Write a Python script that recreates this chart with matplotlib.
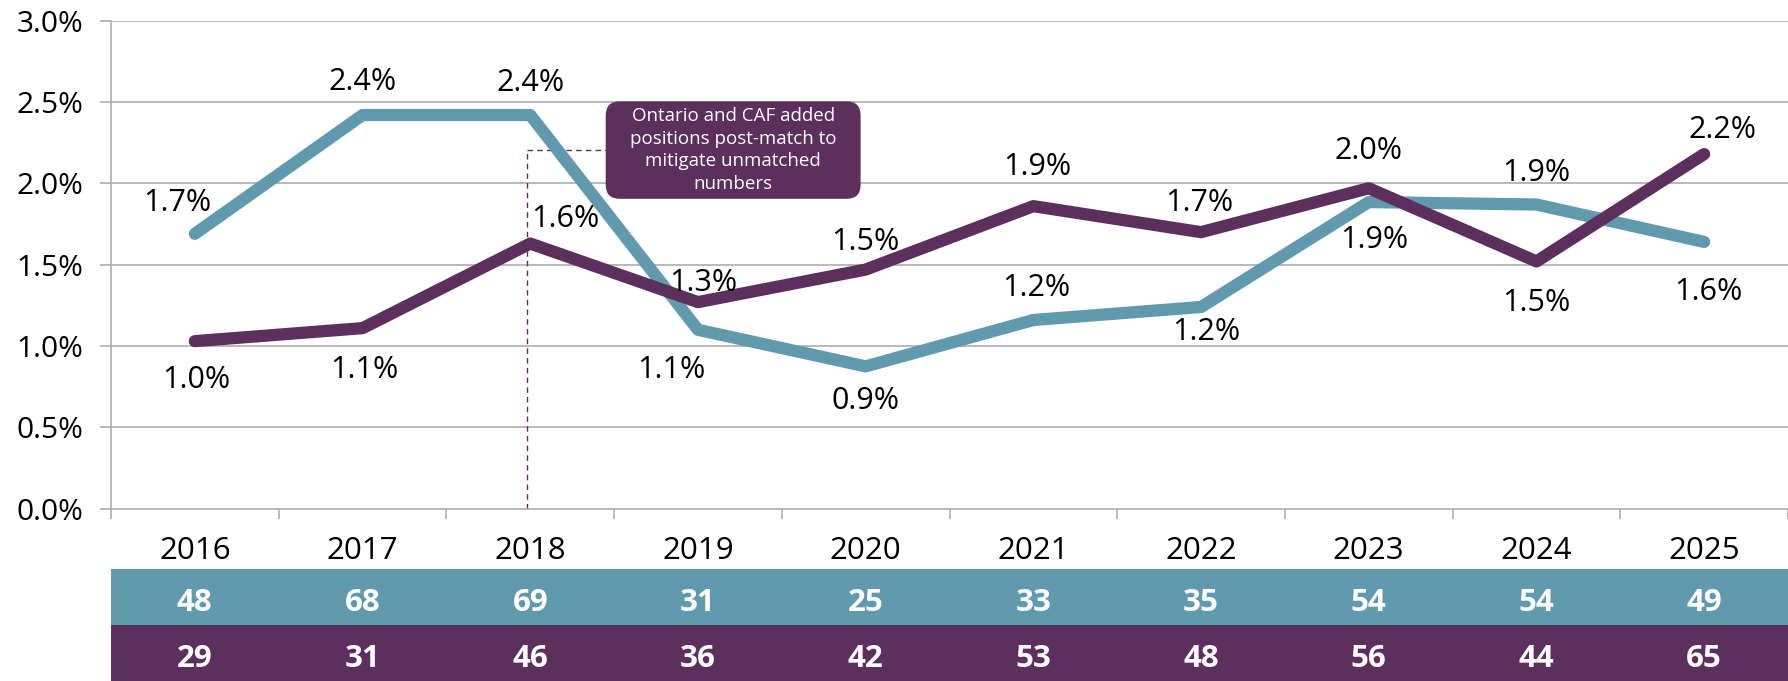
import matplotlib
matplotlib.use("Agg")
import matplotlib.pyplot as plt
from matplotlib.patches import FancyBboxPatch
import numpy as np

# ---------------- data ----------------
years = ["2016", "2017", "2018", "2019", "2020", "2021", "2022", "2023", "2024", "2025"]
teal_rate = [1.69, 2.42, 2.42, 1.10, 0.875, 1.16, 1.24, 1.885, 1.87, 1.64]
purple_rate = [1.03, 1.11, 1.63, 1.27, 1.47, 1.86, 1.70, 1.97, 1.52, 2.18]
teal_counts = [48, 68, 69, 31, 25, 33, 35, 54, 54, 49]
purple_counts = [29, 31, 46, 36, 42, 53, 48, 56, 44, 65]
y_ticks = [0.0, 0.5, 1.0, 1.5, 2.0, 2.5, 3.0]
note_text = "Ontario and CAF added\npositions post-match to\nmitigate unmatched\nnumbers"
note_year = "2018"

# ---------------- layout / style ----------------
TEAL = "#6199AE"
PURPLE = "#5C2F5D"
GRID = "#A6A6A6"
FONT = "Open Sans"
W, H, DPI = 1788, 681, 100

# label offsets in points (dx, dy)
teal_off = [(-13, 22), (0, 24), (0, 23), (-19, -29), (0, -25),
            (2, 23), (4, -18), (4, -27), (0, 23), (3, -36)]
purple_off = [(1, -28), (1, -30), (25, 18), (4, 14), (0, 20),
              (3, 28), (-1, 21), (0, 27), (0, -30), (13, 17)]

plt.rcParams['font.family'] = [FONT, 'DejaVu Sans']

fig = plt.figure(figsize=(W / DPI, H / DPI), dpi=DPI)
fig.patch.set_facecolor("white")

ax_left, ax_bottom_px, ax_top_px = 111, 508.7, 20.7
ax = fig.add_axes([ax_left / W, 1 - ax_bottom_px / H, (W - ax_left) / W,
                   (ax_bottom_px - ax_top_px) / H])

x = np.arange(len(years))
ax.set_xlim(-0.5, len(years) - 0.5)
ax.set_ylim(0, 3.0)

# grid
for v in y_ticks[1:]:
    ax.axhline(v, color=GRID, lw=1.1, zorder=1)

ax.plot(x, teal_rate, color=TEAL, lw=8.8, solid_capstyle="round",
        solid_joinstyle="round", zorder=3)
ax.plot(x, purple_rate, color=PURPLE, lw=8.8, solid_capstyle="round",
        solid_joinstyle="round", zorder=4)

for i, v in enumerate(teal_rate):
    ax.annotate(f"{v:.1f}%", (x[i], v), xytext=teal_off[i], textcoords="offset points",
                ha="center", va="center", fontsize=22, color="black", zorder=5)
for i, v in enumerate(purple_rate):
    ax.annotate(f"{v:.1f}%", (x[i], v), xytext=purple_off[i], textcoords="offset points",
                ha="center", va="center", fontsize=22, color="black", zorder=5)

# spines & ticks
for s in ["top", "right"]:
    ax.spines[s].set_visible(False)
ax.spines["left"].set_color(GRID)
ax.spines["bottom"].set_color(GRID)
ax.spines["left"].set_linewidth(1.1)
ax.spines["bottom"].set_linewidth(1.1)

ax.set_yticks(y_ticks)
ax.set_yticklabels([f"{v:.1f}%" for v in y_ticks])
ax.tick_params(axis="y", direction="out", length=8, width=1.1, color=GRID,
               labelsize=21.5, pad=12)

ax.set_xticks(x)
ax.set_xticklabels(years)
ax.set_xticks(np.arange(-0.5, len(years)), minor=True)
ax.tick_params(axis="x", which="major", length=0, labelsize=22.5, pad=20)
ax.tick_params(axis="x", which="minor", direction="out", length=7, width=1.1,
               color=GRID)

# annotation: dashed connector + rounded box
xi = years.index(note_year)
ax.plot([xi - 0.02, xi - 0.02], [0, 2.208], color=PURPLE, lw=1.0,
        ls=(0, (4, 3)), zorder=2)
ax.plot([xi - 0.02, xi + 0.45], [2.208, 2.208], color=PURPLE, lw=1.0,
        ls=(0, (4, 3)), zorder=2)

fig.canvas.draw()
p0 = ax.transData.transform((xi + 0.45, 1.905))
p1 = ax.transData.transform((xi + 1.97, 2.504))
box = FancyBboxPatch((p0[0], p0[1]), p1[0] - p0[0], p1[1] - p0[1],
                     boxstyle="round,pad=0,rounding_size=14",
                     transform=None, facecolor=PURPLE, edgecolor="none", zorder=6)
fig.patches.append(box)
fig.text((p0[0] + p1[0]) / 2 / W, (p0[1] + p1[1]) / 2 / H, note_text,
         ha="center", va="center", color="white", fontsize=13.5, linespacing=1.32,
         zorder=7)

# table
tab = fig.add_axes([ax_left / W, 0, (W - ax_left) / W, 112 / H])
tab.set_xlim(-0.5, len(years) - 0.5)
tab.set_ylim(0, 2)
tab.axhspan(1, 2, color=TEAL, lw=0)
tab.axhspan(0, 1, color=PURPLE, lw=0)
for i in range(len(years)):
    tab.text(x[i], 1.40, str(teal_counts[i]), ha="center", va="center",
             color="white", fontsize=22.5, fontweight="bold")
    tab.text(x[i], 0.39, str(purple_counts[i]), ha="center", va="center",
             color="white", fontsize=22.5, fontweight="bold")
tab.axis("off")

fig.savefig("out.png", dpi=DPI)
